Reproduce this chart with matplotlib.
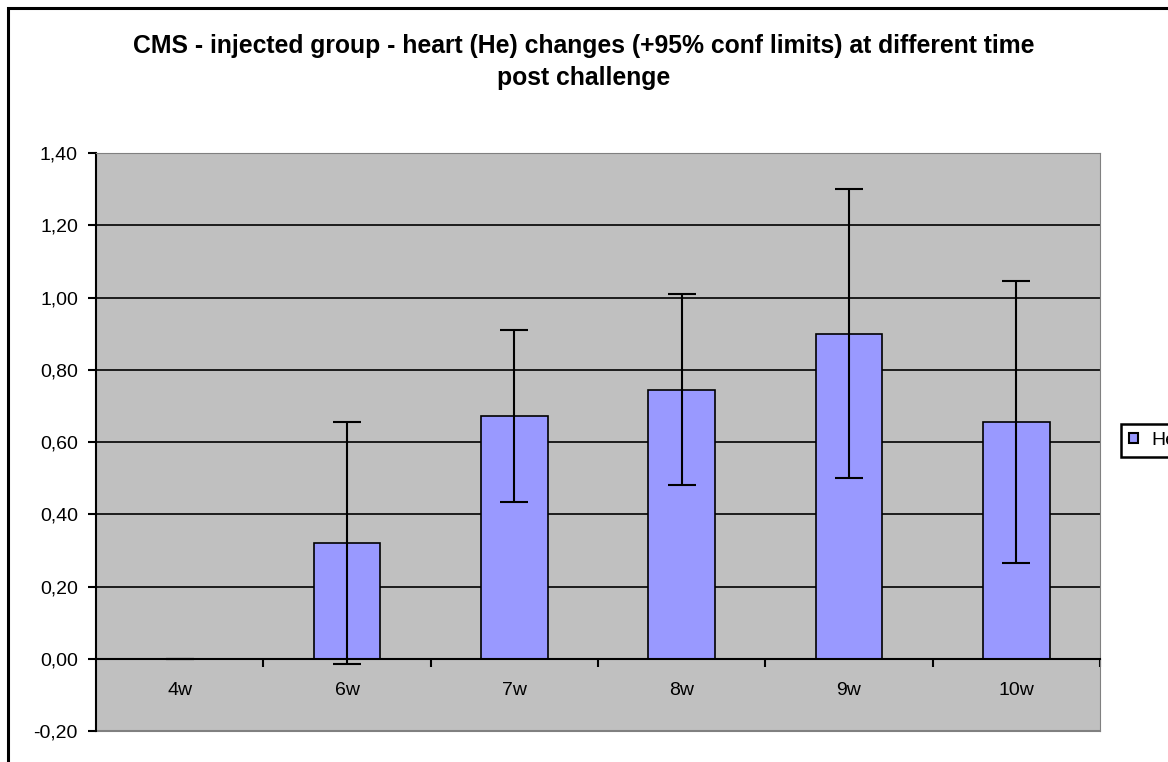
import matplotlib
matplotlib.use("Agg")
import matplotlib.pyplot as plt
from matplotlib.patches import Patch, Rectangle
from matplotlib.ticker import FuncFormatter, MultipleLocator, FixedLocator

plt.rcParams["font.family"] = ["Liberation Sans", "DejaVu Sans"]

# data
categories = ["4w", "6w", "7w", "8w", "9w", "10w"]
he_values = [0.0, 0.32, 0.671, 0.745, 0.899, 0.655]
he_conf = [0.0, 0.335, 0.238, 0.265, 0.40, 0.39]

title = ("CMS - injected group - heart (He) changes (+95% conf limits) at different time\n"
         "post challenge")

fig = plt.figure(figsize=(11.68, 7.62), dpi=100)
fig.patch.set_facecolor("white")

# outer chart border (runs off the right and bottom edge like the original)
fig.patches.append(Rectangle((8 / 1168, -0.1), 1.2, 1 - 8 / 762 + 0.1,
                             transform=fig.transFigure, fill=False,
                             edgecolor="black", linewidth=2.2))

ax = fig.add_axes([96 / 1168, 31 / 762, 1004 / 1168, 578 / 762])
ax.set_facecolor("#C0C0C0")

x = range(len(categories))
ax.bar(x, he_values, width=0.4, color="#9999FF", edgecolor="black",
       linewidth=1.2, zorder=3)
ax.errorbar(x, he_values, yerr=he_conf, fmt="none", ecolor="black",
            elinewidth=1.5, capsize=10, capthick=1.5, zorder=4)

ax.set_xlim(-0.5, len(categories) - 0.5)
ax.set_ylim(-0.2, 1.4)

# value axis
ax.yaxis.set_major_locator(MultipleLocator(0.2))
ax.yaxis.set_major_formatter(FuncFormatter(lambda v, p: f"{v:.2f}".replace(".", ",")))
ax.tick_params(axis="y", direction="out", length=6, width=1.5, labelsize=14, pad=7)
ax.grid(axis="y", color="black", linewidth=1.2, zorder=1)
ax.set_axisbelow(True)

# category axis sits at zero
ax.spines["bottom"].set_position(("data", 0))
ax.spines["bottom"].set_linewidth(1.5)
ax.spines["bottom"].set_zorder(5)
ax.spines["left"].set_linewidth(1.5)
ax.spines["top"].set_color("#808080")
ax.spines["right"].set_color("#808080")
ax.axhline(-0.2, color="#808080", linewidth=1.5, clip_on=False)

ax.xaxis.set_major_locator(FixedLocator(list(x)))
ax.set_xticklabels(categories)
ax.xaxis.set_minor_locator(FixedLocator([i + 0.5 for i in x]))
ax.tick_params(axis="x", which="major", length=0, labelsize=14, pad=17)
ax.tick_params(axis="x", which="minor", direction="out", length=6, width=1.5)

fig.text(584 / 1168, 1 - 62 / 762, title, ha="center", va="center",
         fontsize=17.8, fontweight="bold", linespacing=1.4)

# legend sits partly off the right edge, as in the original chart
handles = [Patch(facecolor="#9999FF", edgecolor="black", linewidth=1.5)]
leg = fig.legend(handles, ["He"], loc="upper left",
                 bbox_to_anchor=(1121 / 1168, 1 - 424 / 762),
                 fontsize=14, fancybox=False, framealpha=1,
                 handlelength=0.45, handleheight=0.45, handletextpad=0.7,
                 borderpad=0.4, borderaxespad=0)
leg.get_frame().set_edgecolor("black")
leg.get_frame().set_linewidth(1.8)

fig.savefig("out.png", dpi=100)
